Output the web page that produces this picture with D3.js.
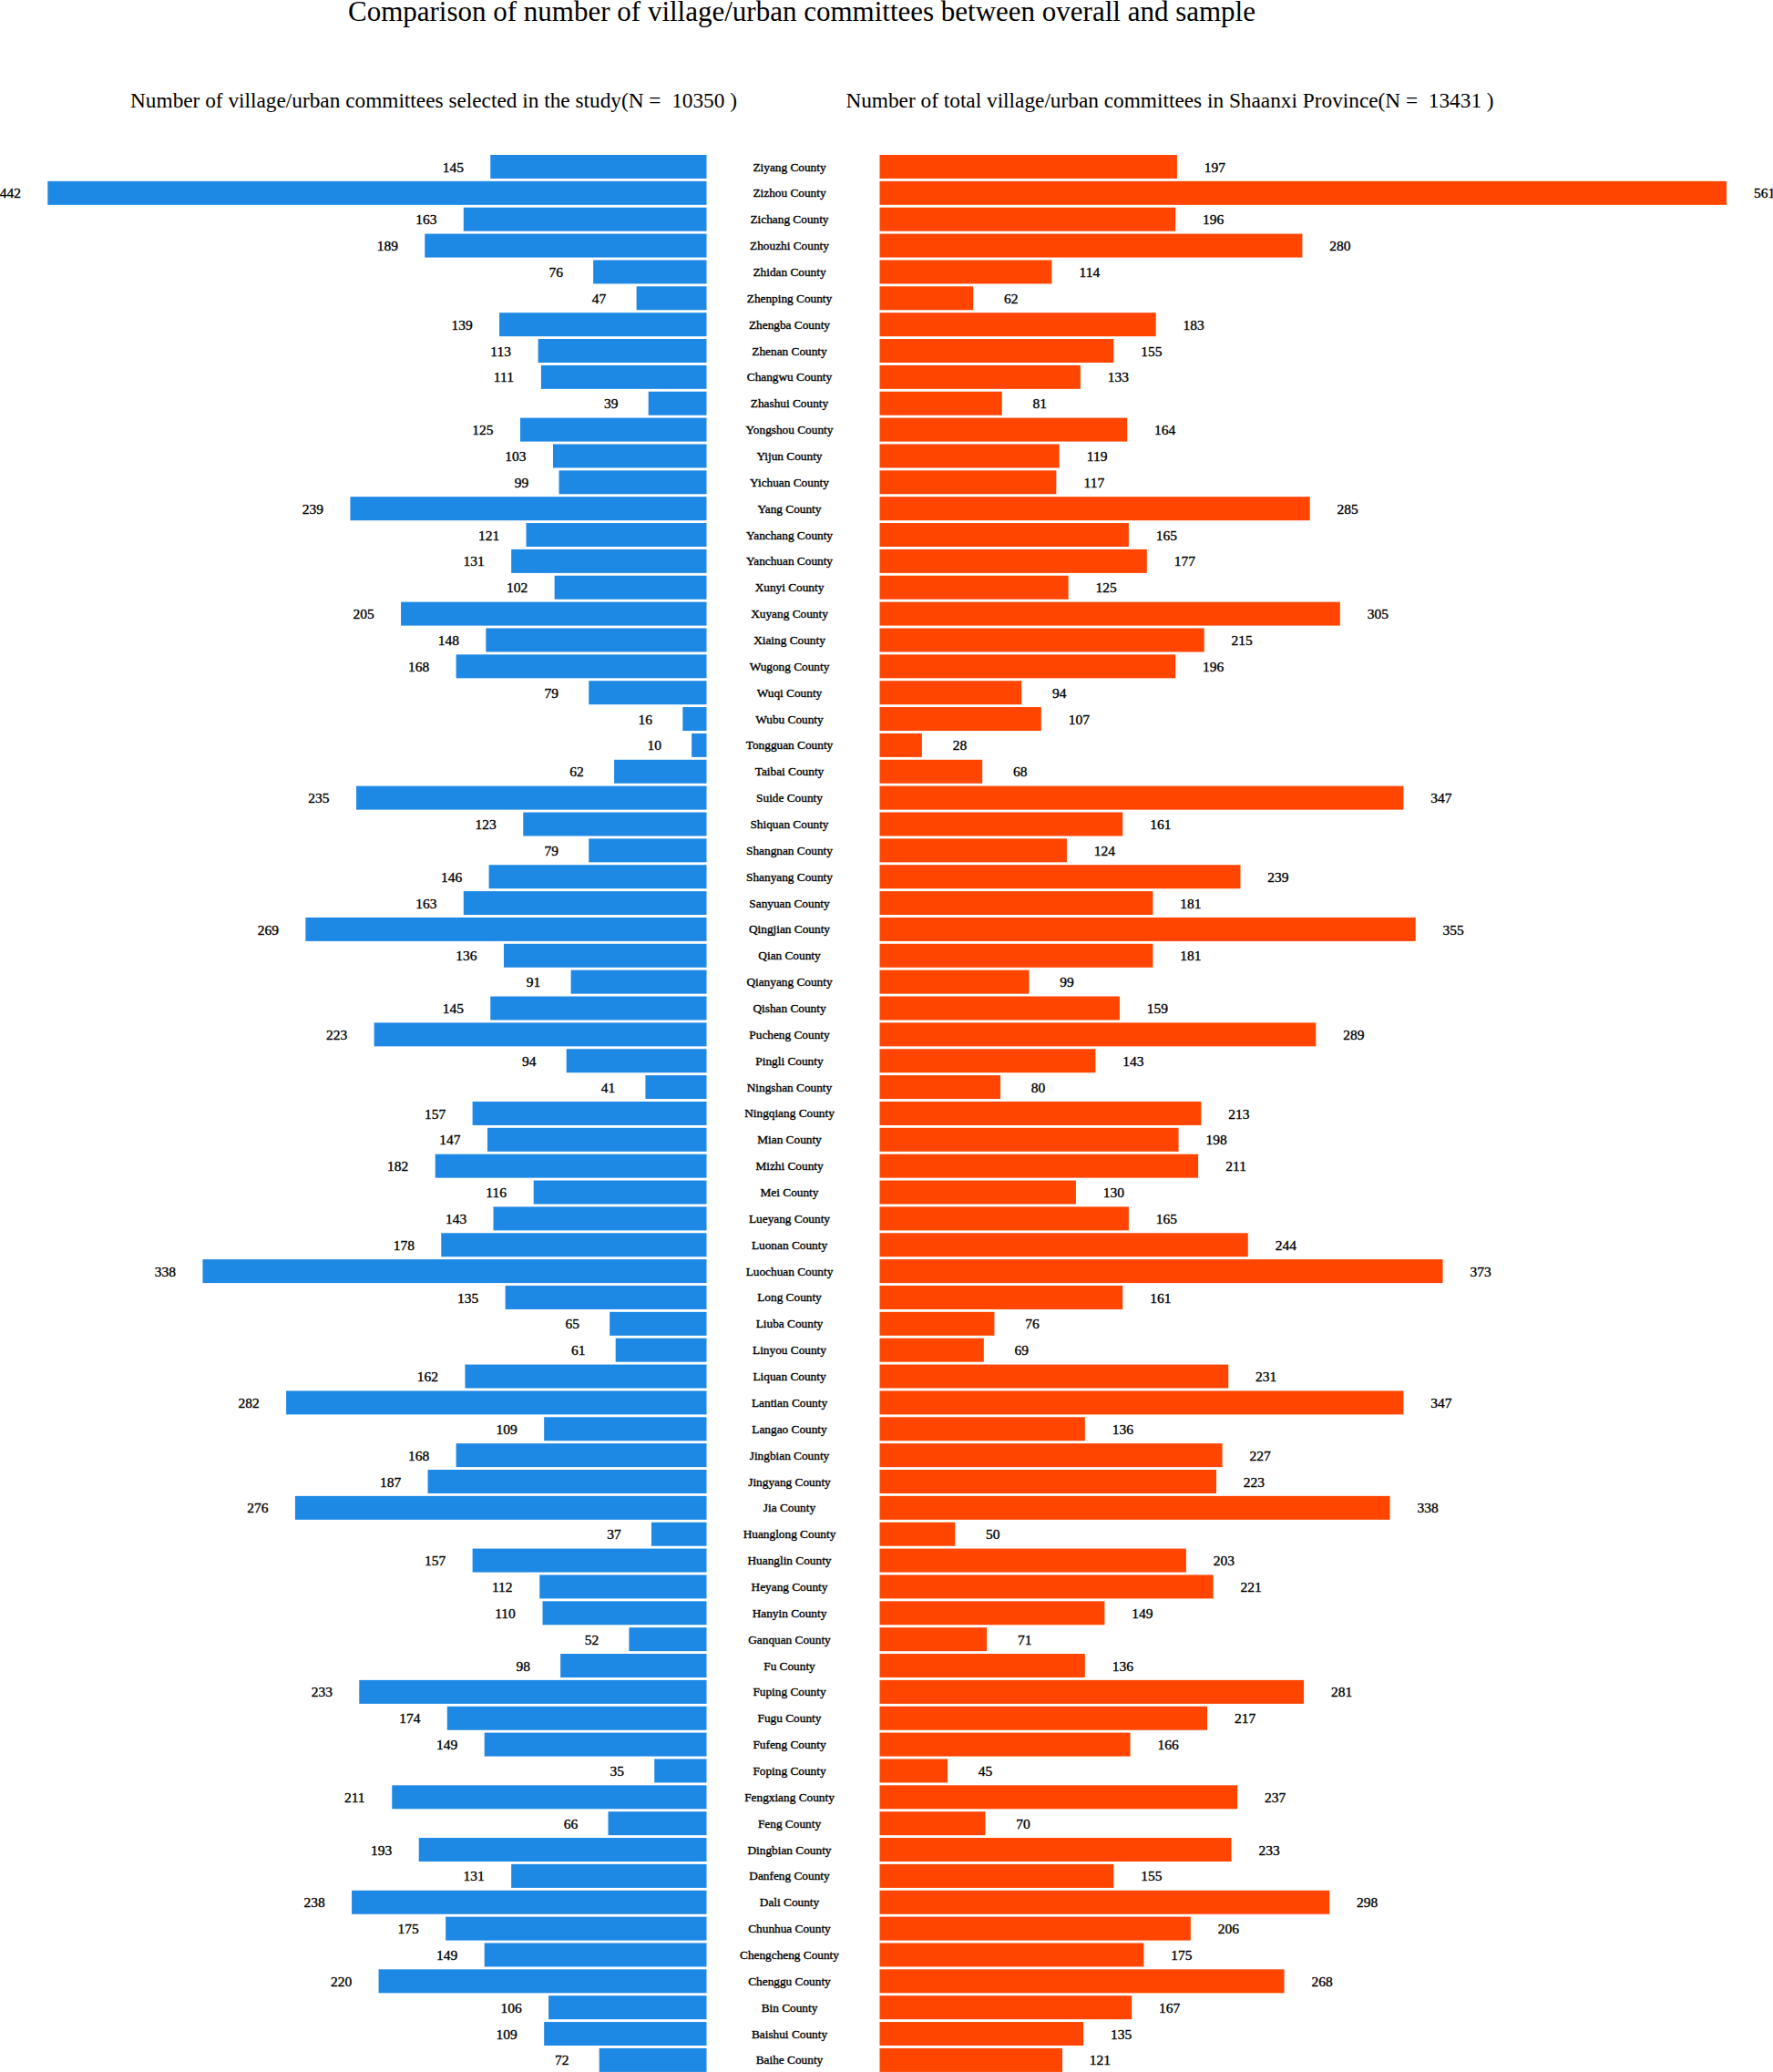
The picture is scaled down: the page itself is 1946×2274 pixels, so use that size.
<!DOCTYPE html>
<html>
<head>
<meta charset="utf-8">
<script src="https://cdn.jsdelivr.net/npm/d3@7"></script>
<style>
  html, body { margin: 0; padding: 0; background: #fff; }
  svg { display: block; }
  text { font-family: "Liberation Serif", "Times New Roman", serif; fill: #000; white-space: pre; }
  .heavy { stroke: #000; stroke-width: 0.35px; }
</style>
</head>
<body>
<script>
const counties = ["Ziyang County","Zizhou County","Zichang County","Zhouzhi County","Zhidan County","Zhenping County","Zhengba County","Zhenan County","Changwu County","Zhashui County","Yongshou County","Yijun County","Yichuan County","Yang County","Yanchang County","Yanchuan County","Xunyi County","Xuyang County","Xiaing County","Wugong County","Wuqi County","Wubu County","Tongguan County","Taibai County","Suide County","Shiquan County","Shangnan County","Shanyang County","Sanyuan County","Qingjian County","Qian County","Qianyang County","Qishan County","Pucheng County","Pingli County","Ningshan County","Ningqiang County","Mian County","Mizhi County","Mei County","Lueyang County","Luonan County","Luochuan County","Long County","Liuba County","Linyou County","Liquan County","Lantian County","Langao County","Jingbian County","Jingyang County","Jia County","Huanglong County","Huanglin County","Heyang County","Hanyin County","Ganquan County","Fu County","Fuping County","Fugu County","Fufeng County","Foping County","Fengxiang County","Feng County","Dingbian County","Danfeng County","Dali County","Chunhua County","Chengcheng County","Chenggu County","Bin County","Baishui County","Baihe County"];

const sampleCounts = [145,442,163,189,76,47,139,113,111,39,125,103,99,239,121,131,102,205,148,168,79,16,10,62,235,123,79,146,163,269,136,91,145,223,94,41,157,147,182,116,143,178,338,135,65,61,162,282,109,168,187,276,37,157,112,110,52,98,233,174,149,35,211,66,193,131,238,175,149,220,106,109,72];

const totalCounts = [197,561,196,280,114,62,183,155,133,81,164,119,117,285,165,177,125,305,215,196,94,107,28,68,347,161,124,239,181,355,181,99,159,289,143,80,213,198,211,130,165,244,373,161,76,69,231,347,136,227,223,338,50,203,221,149,71,136,281,217,166,45,237,70,233,155,298,206,175,268,167,135,121];

const titleText = "Comparison of number of village/urban committees between overall and sample";
const leftHeader = "Number of village/urban committees selected in the study";
const rightHeader = "Number of total village/urban committees in Shaanxi Province";

const W = 1946, H = 2274;
const BLUE = "#1e88e5", ORANGE = "#ff4500";

const svg = d3.select("body").append("svg").attr("width", W).attr("height", H);

const y = d3.scaleBand().domain(counties).range([168.56, 168.56 + 73 * 28.86]).paddingInner(0.1).paddingOuter(0.05);
const xL = d3.scaleLinear().domain([0, d3.max(sampleCounts)]).range([775.5, 52.3]);
const xR = d3.scaleLinear().domain([0, d3.max(totalCounts)]).range([965.5, 1895]);

const rows = counties.map((c, i) => ({ c, s: sampleCounts[i], t: totalCounts[i] }));

svg.append("text").attr("x", 880).attr("y", 23).attr("text-anchor", "middle")
  .style("font-size", "31px").text(titleText);

svg.append("text").attr("x", 476).attr("y", 118).attr("text-anchor", "middle")
  .style("font-size", "23.3px").text(leftHeader + "(N =  " + d3.sum(sampleCounts) + " )");
svg.append("text").attr("x", 1284).attr("y", 118).attr("text-anchor", "middle")
  .style("font-size", "23.3px").text(rightHeader + "(N =  " + d3.sum(totalCounts) + " )");

// left bars
svg.append("g").selectAll("rect").data(rows).join("rect")
  .attr("x", d => xL(d.s)).attr("y", d => y(d.c))
  .attr("width", d => xL(0) - xL(d.s)).attr("height", y.bandwidth())
  .attr("fill", BLUE);

svg.append("g").selectAll("text").data(rows).join("text")
  .attr("class", "heavy")
  .attr("x", d => xL(d.s) - 41).attr("y", d => y(d.c) + y.bandwidth() / 2)
  .attr("dy", "0.36em").attr("text-anchor", "middle")
  .style("font-size", "15.5px").text(d => d.s);

// right bars
svg.append("g").selectAll("rect").data(rows).join("rect")
  .attr("x", xR(0)).attr("y", d => y(d.c))
  .attr("width", d => xR(d.t) - xR(0)).attr("height", y.bandwidth())
  .attr("fill", ORANGE);

svg.append("g").selectAll("text").data(rows).join("text")
  .attr("class", "heavy")
  .attr("x", d => xR(d.t) + 41.5).attr("y", d => y(d.c) + y.bandwidth() / 2)
  .attr("dy", "0.36em").attr("text-anchor", "middle")
  .style("font-size", "15.5px").text(d => d.t);

// center labels
svg.append("g").selectAll("text").data(rows).join("text")
  .attr("class", "heavy")
  .attr("x", 866.5).attr("y", d => y(d.c) + y.bandwidth() / 2)
  .attr("dy", "0.34em").attr("text-anchor", "middle")
  .style("font-size", "13.3px").text(d => d.c);
</script>
</body>
</html>
